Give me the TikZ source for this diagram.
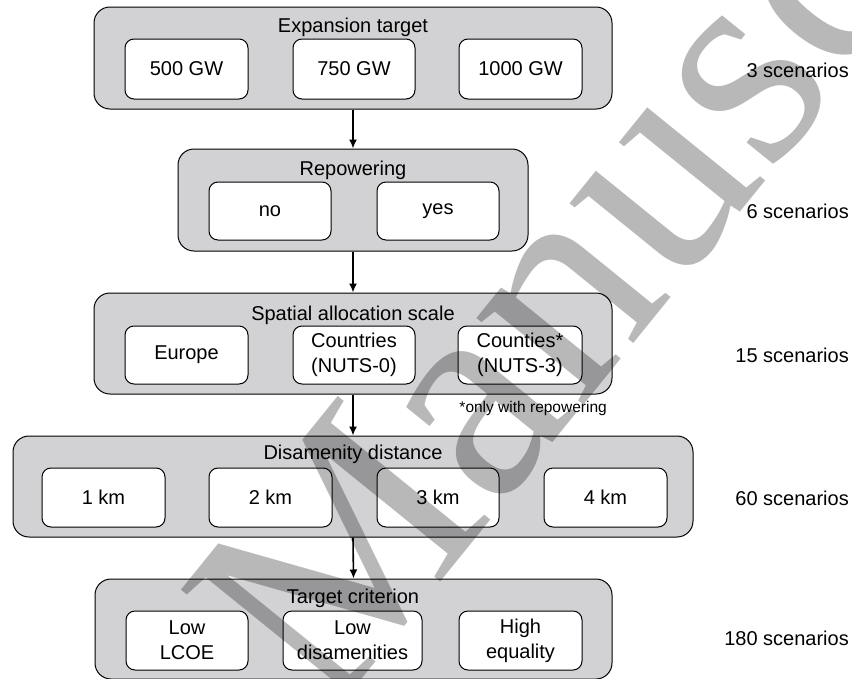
\documentclass[tikz,border=0pt]{standalone}
\usepackage{fontspec}
\setmainfont{Liberation Sans}
\newfontfamily\wmfont{Liberation Serif}
\usetikzlibrary{arrows.meta}
\definecolor{boxgray}{RGB}{210,209,211}
\begin{document}
\begin{tikzpicture}[x=1pt,y=-1pt,
  outer/.style={draw=black, line width=1pt, fill=boxgray, rounded corners=16pt, inner sep=0pt},
  opt/.style={draw=black, line width=1pt, fill=white, rounded corners=9pt, inner sep=0pt,
              align=center, font=\fontsize{20}{25}\selectfont},
  ttl/.style={font=\fontsize{20}{24}\selectfont, inner sep=0pt, anchor=base},
  scen/.style={font=\fontsize{20}{24}\selectfont, anchor=base east, inner sep=0pt},
  note/.style={font=\fontsize{15.5}{18}\selectfont, anchor=base east, inner sep=0pt},
  arr/.style={-{Latex[length=9pt,width=8pt]}, line width=1.6pt},
  wm/.style={anchor=base west, rotate=51, inner sep=0pt, text=black, text opacity=0.28,
             font=\wmfont\fontsize{300}{310}\selectfont}]
\useasboundingbox (0,0) rectangle (852,678);

% outer group boxes
\node[outer, minimum width=518pt, minimum height=102pt] (b1) at (353,58) {};
\node[outer, minimum width=350pt, minimum height=102pt] (b2) at (353,200) {};
\node[outer, minimum width=518pt, minimum height=101pt] (b3) at (353,343.5) {};
\node[outer, minimum width=680pt, minimum height=101pt] (b4) at (353,486.5) {};
\node[outer, minimum width=517pt, minimum height=100pt] (b5) at (353.5,629) {};

% titles
\node[ttl] (t1) at (353,32) {Expansion target};
\node[ttl] (t2) at (353,175) {Repowering};
\node[ttl] (t3) at (353,320) {Spatial allocation scale};
\node[ttl] (t4) at (353,459) {Disamenity distance};
\node[ttl] (t5) at (353,603) {Target criterion};

% row 1
\node[opt, minimum width=123pt, minimum height=60pt] (o11) at (186.5,69) {500 GW};
\node[opt, minimum width=122pt, minimum height=60pt] (o12) at (354,69) {750 GW};
\node[opt, minimum width=123pt, minimum height=60pt] (o13) at (520.5,69) {1000 GW};
% row 2
\node[opt, minimum width=122pt, minimum height=58pt] (o21) at (270,211) {no};
\node[opt, minimum width=122pt, minimum height=58pt] (o22) at (438,211) {yes};
% row 3
\node[opt, minimum width=123pt, minimum height=58pt] (o31) at (186.5,355) {Europe};
\node[opt, minimum width=122pt, minimum height=58pt] (o32) at (354,355) {Countries\\(NUTS-0)};
\node[opt, minimum width=124pt, minimum height=58pt] (o33) at (520,355) {Counties*\\(NUTS-3)};
% row 4
\node[opt, minimum width=123pt, minimum height=59pt] (o41) at (103.5,497.5) {1 km};
\node[opt, minimum width=123pt, minimum height=59pt] (o42) at (270.5,497.5) {2 km};
\node[opt, minimum width=122pt, minimum height=59pt] (o43) at (438,497.5) {3 km};
\node[opt, minimum width=123pt, minimum height=59pt] (o44) at (605.5,497.5) {4 km};
% row 5
\node[opt, minimum width=122pt, minimum height=59pt] (o51) at (187,640.5) {Low\\LCOE};
\node[opt, minimum width=139pt, minimum height=59pt] (o52) at (352.5,640.5) {Low\\disamenities};
\node[opt, minimum width=123pt, minimum height=59pt] (o53) at (520.5,640.5) {High\\equality};

% footnote
\node[note] (fn) at (607,412) {*only with repowering};

% scenario counts
\node[scen] (s1) at (849,77) {3 scenarios};
\node[scen] (s2) at (849,218) {6 scenarios};
\node[scen] (s3) at (849,362) {15 scenarios};
\node[scen] (s4) at (849,505) {60 scenarios};
\node[scen] (s5) at (849,645) {180 scenarios};

% arrows
\draw[arr] (b1.south) -- (b2.north);
\draw[arr] (b2.south) -- (b3.north);
\draw[arr] (b3.south) -- (b4.north);
\draw[arr] (b4.south) -- (b5.north);

% watermark
\node[wm] (wmk) at (328,721) {Manuscript};
\end{tikzpicture}
\end{document}
